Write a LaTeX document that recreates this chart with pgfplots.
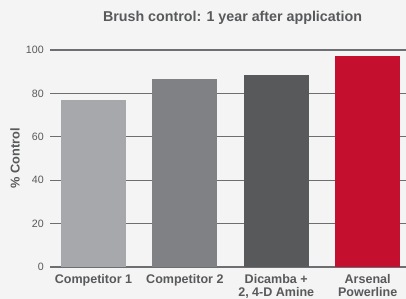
\documentclass[border=0pt]{standalone}
\usepackage{pgfplots}
\pgfplotsset{compat=1.18}
\usepackage{fontspec}
\setmainfont{Liberation Sans}
\definecolor{bg}{HTML}{F4F4F4}
\definecolor{txt}{HTML}{58595B}
\definecolor{gridc}{HTML}{6D6E71}
\definecolor{cA}{HTML}{A7A8AB}
\definecolor{cB}{HTML}{808184}
\definecolor{cC}{HTML}{58595B}
\definecolor{cD}{HTML}{C4102E}
\begin{document}
\begin{tikzpicture}[x=0.75pt,y=0.75pt]
\fill[bg] (0,0) rectangle (406,299);
\useasboundingbox (0,0) rectangle (406,299);
\node[font=\bfseries\fontsize{10.7pt}{12pt}\selectfont, text=txt] at (232.5,281) {Brush control: 1 year after application};
\node[font=\bfseries\fontsize{9.6pt}{11pt}\selectfont, text=txt, rotate=90] at (15,141) {\% Control};
\begin{axis}[
  at={(50*0.75pt,32*0.75pt)}, anchor=south west,
  scale only axis, width=356*0.75pt, height=217*0.75pt,
  xmin=-0.476, xmax=3.42, ymin=0, ymax=100,
  axis line style={draw=none},
  ytick={0,20,40,60,80,100},
  ymajorgrids, grid style={gridc, line width=0.9pt},
  xtick={0,1,2,3},
  xticklabels={Competitor 1, Competitor 2, {Dicamba +\\2, 4-D Amine}, {Arsenal\\Powerline}},
  xticklabel style={font=\bfseries\fontsize{9.4pt}{9.8pt}\selectfont, text=txt, align=center, anchor=north, inner sep=0pt, yshift=-5.5pt},
  yticklabel style={font=\fontsize{8pt}{9pt}\selectfont, text=txt, anchor=east, inner sep=0pt, xshift=-4.5pt},
  /pgf/number format/assume math mode=true,
  major tick length=0pt,
  tick style={draw=none},
  clip=false,
]
\addplot[ybar, bar shift=0pt, bar width=0.71, fill=cA, draw=none] coordinates {(0,77)};
\addplot[ybar, bar shift=0pt, bar width=0.71, fill=cB, draw=none] coordinates {(1,86.6)};
\addplot[ybar, bar shift=0pt, bar width=0.71, fill=cC, draw=none] coordinates {(2,88.5)};
\addplot[ybar, bar shift=0pt, bar width=0.71, fill=cD, draw=none] coordinates {(3,97.2)};
\end{axis}
\end{tikzpicture}
\end{document}
